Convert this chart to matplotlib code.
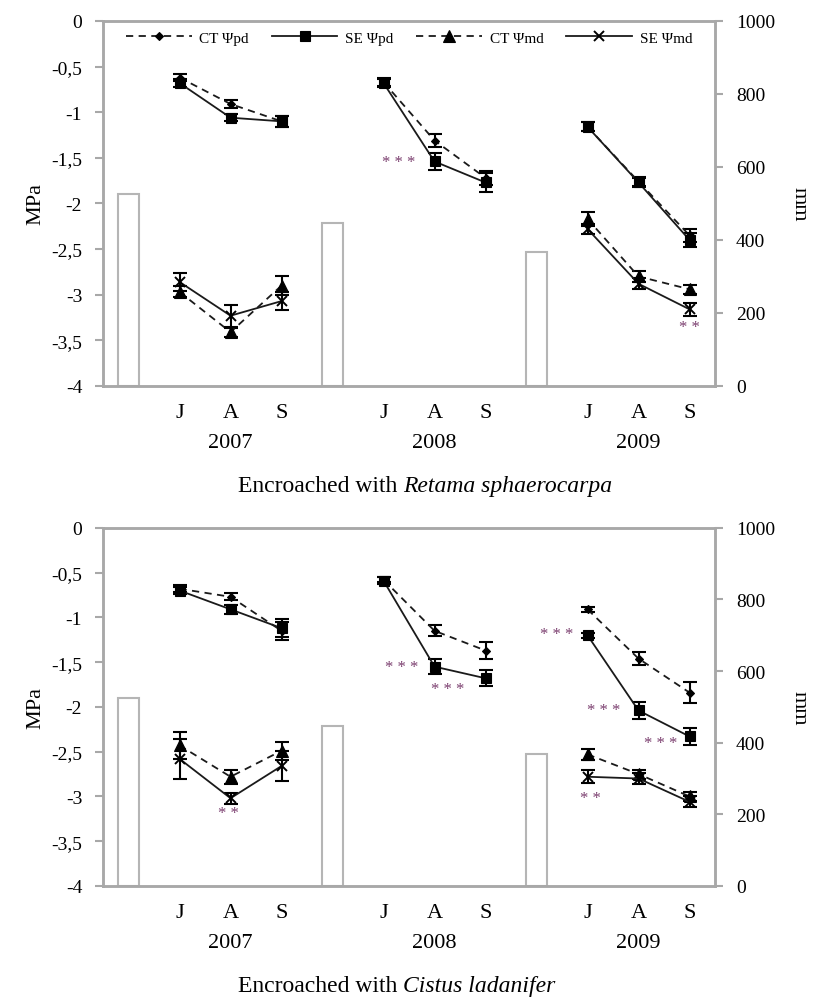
import numpy as np
import matplotlib
matplotlib.use('Agg')
import matplotlib.pyplot as plt
from matplotlib.ticker import FuncFormatter

plt.rcParams['font.family'] = ['Liberation Serif', 'DejaVu Serif']

nan = np.nan

months = ['J', 'A', 'S']
years = ['2007', '2008', '2009']
rain_mm = [525, 447, 368]

# Retama sphaerocarpa (top panel), 3 months x 3 years
ret_ct_pd = [-0.62, -0.91, -1.10, -0.67, -1.31, -1.72, -1.16, -1.76, -2.35]
ret_ct_pd_err = [0.04, 0.04, 0.06, 0.04, 0.07, 0.08, 0.05, 0.05, 0.07]
ret_se_pd = [-0.68, -1.06, -1.10, -0.68, -1.54, -1.77, -1.16, -1.77, -2.40]
ret_se_pd_err = [0.04, 0.04, 0.06, 0.04, 0.09, 0.10, 0.05, 0.05, 0.08]
ret_ct_md = [-2.97, -3.41, -2.90, nan, nan, nan, -2.17, -2.80, -2.94]
ret_ct_md_err = [0.06, 0.05, 0.10, nan, nan, nan, 0.08, 0.06, 0.05]
ret_se_md = [-2.86, -3.23, -3.07, nan, nan, nan, -2.28, -2.88, -3.16]
ret_se_md_err = [0.10, 0.12, 0.10, nan, nan, nan, 0.06, 0.06, 0.07]

# Cistus ladanifer (bottom panel)
cis_ct_pd = [-0.68, -0.77, -1.15, -0.58, -1.15, -1.37, -0.91, -1.46, -1.84]
cis_ct_pd_err = [0.04, 0.04, 0.10, 0.03, 0.06, 0.10, 0.03, 0.075, 0.12]
cis_se_pd = [-0.70, -0.91, -1.12, -0.59, -1.55, -1.68, -1.20, -2.04, -2.33]
cis_se_pd_err = [0.04, 0.05, 0.10, 0.04, 0.08, 0.09, 0.03, 0.09, 0.10]
cis_ct_md = [-2.43, -2.78, -2.49, nan, nan, nan, -2.53, -2.75, -3.00]
cis_ct_md_err = [0.15, 0.08, 0.10, nan, nan, nan, 0.06, 0.05, 0.05]
cis_se_md = [-2.58, -3.02, -2.66, nan, nan, nan, -2.78, -2.80, -3.06]
cis_se_md_err = [0.22, 0.06, 0.17, nan, nan, nan, 0.07, 0.06, 0.06]

# significance marks: (category position, MPa, text)
ret_stars = [(5.3, -1.55, '* * *'), (11.0, -3.35, '* *')]
cis_stars = [(1.95, -3.19, '* *'), (5.35, -1.55, '* * *'), (6.25, -1.80, '* * *'),
             (8.4, -1.18, '* * *'), (9.32, -2.04, '* * *'), (10.44, -2.40, '* * *'),
             (9.05, -3.02, '* *')]

series_style = [
    ('CT \u03a8pd', 'D', 4.5, (0, (4, 3))),
    ('SE \u03a8pd', 's', 7, '-'),
    ('CT \u03a8md', '^', 8, (0, (4, 3))),
    ('SE \u03a8md', 'x', 6.5, '-'),
]

grey = '#a8a8a8'
ink = '#1a1a1a'
fs_tick = 14
fs_lab = 16


def comma(v, pos):
    return ('%g' % v).replace('.', ',')


def draw_panel(ax, vals, errs, stars, title, species):
    axr = ax.twinx()
    ax.set_zorder(axr.get_zorder() + 1)
    ax.patch.set_visible(False)

    # rainfall bars
    axr.bar([0, 4, 8], rain_mm, width=0.42, facecolor='white',
            edgecolor='#b5b5b5', linewidth=1.5)
    axr.set_ylim(0, 1000)
    axr.set_yticks(range(0, 1001, 200))
    axr.set_ylabel('mm', rotation=270, fontsize=fs_lab, labelpad=24)

    for k, (lab, mk, ms, ls) in enumerate(series_style):
        v = np.array(vals[k])
        e = np.array(errs[k])
        for i in range(3):
            x = np.arange(1, 4) + 4 * i
            y = v[3 * i:3 * i + 3]
            if np.all(np.isnan(y)):
                continue
            ax.errorbar(x, y, yerr=e[3 * i:3 * i + 3], fmt='none',
                        ecolor='black', elinewidth=1.5, capsize=5, capthick=1.5)
            ax.plot(x, y, color=ink, linestyle=ls, linewidth=1.3, marker=mk,
                    markersize=ms, markeredgewidth=1.4 if mk == 'x' else 0.8,
                    markerfacecolor='black', markeredgecolor='black',
                    label=lab if i == 0 else None)

    for x, y, s in stars:
        ax.text(x, y, s, ha='center', va='center', fontsize=12, color='#7a3d6e')

    ax.set_xlim(-0.5, 11.5)
    ax.set_ylim(-4, 0)
    ax.set_yticks(np.arange(-4, 0.01, 0.5))
    ax.yaxis.set_major_formatter(FuncFormatter(comma))
    ax.set_ylabel('MPa', fontsize=fs_lab, labelpad=4)

    xt = [1 + 4 * i + j for i in range(3) for j in range(3)]
    ax.set_xticks(xt)
    ax.set_xticklabels(months * 3, fontsize=fs_lab)
    ax.tick_params(axis='x', length=0, pad=12)
    for a in (ax, axr):
        a.tick_params(axis='y', colors=grey, labelcolor='black', labelsize=fs_tick,
                      length=6, width=1.5, direction='out', pad=9)
        for sp in a.spines.values():
            sp.set_color(grey)
            sp.set_linewidth(1.8)

    for i, yr in enumerate(years):
        ax.annotate(yr, xy=(2 + 4 * i, 0), xycoords=('data', 'axes fraction'),
                    xytext=(0, -41), textcoords='offset points',
                    ha='center', va='center', fontsize=fs_lab)

    ax.annotate(title, xy=(0.49, 0), xycoords='axes fraction',
                xytext=(-4, -72), textcoords='offset points',
                ha='right', va='center', fontsize=17)
    ax.annotate(species, xy=(0.49, 0), xycoords='axes fraction',
                xytext=(0, -72), textcoords='offset points',
                ha='left', va='center', fontsize=17, style='italic')
    return axr


fig = plt.figure(figsize=(8.21, 10.03), dpi=100)
ax1 = fig.add_axes([0.1255, 0.6142, 0.7454, 0.3639])
ax2 = fig.add_axes([0.1255, 0.1157, 0.7454, 0.3570])

draw_panel(ax1, [ret_ct_pd, ret_se_pd, ret_ct_md, ret_se_md],
           [ret_ct_pd_err, ret_se_pd_err, ret_ct_md_err, ret_se_md_err],
           ret_stars, 'Encroached with', 'Retama sphaerocarpa')
draw_panel(ax2, [cis_ct_pd, cis_se_pd, cis_ct_md, cis_se_md],
           [cis_ct_pd_err, cis_se_pd_err, cis_ct_md_err, cis_se_md_err],
           cis_stars, 'Encroached with', 'Cistus ladanifer')

ax1.legend(loc='upper center', bbox_to_anchor=(0.5, 1.01), ncol=4, frameon=False,
           fontsize=11, handlelength=4.3, columnspacing=1.5, handletextpad=0.5)

fig.savefig('out.png', dpi=100)
